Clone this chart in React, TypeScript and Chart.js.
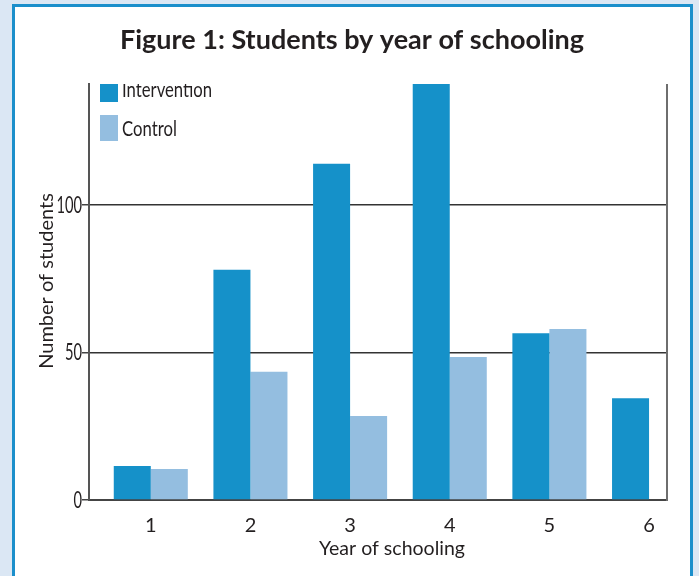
import { useEffect, useRef } from 'react';
import { Chart, registerables } from 'chart.js';

Chart.register(...registerables);

// Students per year of schooling
const years = [1, 2, 3, 4, 5, 6];
const intervention = [11.5, 78, 114, 141, 56.5, 34.5];
const control: (number | null)[] = [10.5, 43.5, 28.5, 48.5, 58, null];
const yTicks = [0, 50, 100];
const seriesLabels = ['Intervention', 'Control'];

const titleText = 'Figure 1: Students by year of schooling';
const xTitle = 'Year of schooling';
const yTitle = 'Number of students';

const FONT = "Lato, 'Open Sans', sans-serif";
const INK = '#231f20';
const BLUE = '#1591c9';
const LIGHT_BLUE = '#94bee0';
const FRAME = '#1b8fcb';
const PAGE_BG = '#dbe7f4';

// Narrow humanist lettering: text is compressed horizontally by this ratio
const SQUEEZE = 0.76;

const figureText = {
  id: 'figureText',
  afterDraw(chart: any) {
    const { ctx, chartArea: a } = chart;
    ctx.save();

    // right-hand frame of the plot
    ctx.strokeStyle = '#6e6e6e';
    ctx.lineWidth = 2;
    ctx.beginPath();
    ctx.moveTo(a.right, a.top);
    ctx.lineTo(a.right, a.bottom + 1);
    ctx.stroke();

    ctx.fillStyle = INK;
    ctx.textBaseline = 'alphabetic';
    ctx.textAlign = 'center';

    // heading
    ctx.font = `bold 27px ${FONT}`;
    ctx.fillText(titleText, 352, 49, 474);

    // axis titles
    ctx.font = `20px ${FONT}`;
    ctx.fillText(xTitle, 392, 555, 146);
    ctx.save();
    ctx.translate(53, 281);
    ctx.rotate(-Math.PI / 2);
    ctx.fillText(yTitle, 0, 0, 182);
    ctx.restore();

    // value labels of the y axis, placed by the scale, in narrow lettering
    const ys = chart.scales.y;
    ctx.textAlign = 'right';
    ctx.textBaseline = 'alphabetic';
    ctx.font = `23px ${FONT}`;
    ys.ticks.forEach((t: any) => {
      const label = String(t.value);
      const w = ctx.measureText(label).width * 0.64;
      ctx.fillText(label, ys.right - 7, ys.getPixelForValue(t.value) + 8, w);
    });

    // legend inside the plot, clipped to the plotting region
    ctx.save();
    ctx.beginPath();
    ctx.rect(a.left, a.top, a.right - a.left, a.bottom - a.top);
    ctx.clip();
    ctx.textAlign = 'left';
    ctx.font = `22px ${FONT}`;
    chart.data.datasets.forEach((ds: any, i: number) => {
      const y0 = a.top - 8 + i * 39;
      ctx.fillStyle = ds.backgroundColor;
      ctx.fillRect(a.left + 11, y0, 18, 26);
      ctx.fillStyle = INK;
      const w = ctx.measureText(ds.label).width * SQUEEZE;
      ctx.fillText(ds.label, a.left + 33, a.top + 13 + i * 39, w);
    });
    ctx.restore();

    ctx.restore();
  },
};

export default function App() {
  const canvasRef = useRef<HTMLCanvasElement | null>(null);

  useEffect(() => {
    const canvas = canvasRef.current;
    if (!canvas) return;
    const chart = new Chart(canvas, {
      type: 'bar',
      data: {
        datasets: [
          {
            label: seriesLabels[0],
            data: years.map((x, i) => ({ x, y: intervention[i] })),
            backgroundColor: BLUE,
          },
          {
            label: seriesLabels[1],
            data: years.map((x, i) => ({ x, y: control[i] })) as any,
            backgroundColor: LIGHT_BLUE,
          },
        ],
      },
      options: {
        responsive: false,
        animation: false,
        devicePixelRatio: 1,
        layout: { padding: { top: 84, right: 32, left: 0, bottom: 0 } },
        datasets: {
          bar: { categoryPercentage: 0.743, barPercentage: 1 },
        },
        plugins: {
          legend: { display: false },
          title: { display: false },
          tooltip: { enabled: false },
        },
        scales: {
          x: {
            type: 'linear',
            min: 0.38,
            max: 6.18,
            offset: false,
            afterFit: (scale: any) => {
              scale.height = 76;
            },
            afterBuildTicks: (scale: any) => {
              scale.ticks = years.map((v) => ({ value: v }));
            },
            grid: { display: false, drawTicks: false },
            border: { display: true, color: '#444', width: 2 },
            ticks: {
              padding: 14,
              color: INK,
              font: { family: FONT, size: 20 },
              callback: (v: any) => String(v),
            },
          },
          y: {
            min: 0,
            max: 141,
            afterFit: (scale: any) => {
              scale.width = 89;
            },
            afterBuildTicks: (scale: any) => {
              scale.ticks = yTicks.map((v) => ({ value: v }));
            },
            grid: {
              color: '#333',
              lineWidth: 1.5,
              drawTicks: true,
              tickLength: 7,
              tickColor: '#444',
              tickWidth: 1.5,
            },
            border: { display: true, color: '#555', width: 2 },
            ticks: { display: false },
          },
        },
      },
      plugins: [figureText],
    });
    return () => chart.destroy();
  }, []);

  return (
    <div
      style={{
        position: 'fixed',
        left: 0,
        top: 0,
        width: 699,
        height: 576,
        background: PAGE_BG,
        overflow: 'hidden',
      }}
    >
      <div
        style={{
          position: 'absolute',
          left: 12,
          top: 4,
          width: 681,
          height: 640,
          boxSizing: 'border-box',
          border: `3px solid ${FRAME}`,
          background: '#ffffff',
        }}
      />
      <canvas
        ref={canvasRef}
        width={699}
        height={576}
        style={{ position: 'absolute', left: 0, top: 0, width: 699, height: 576 }}
      />
    </div>
  );
}
